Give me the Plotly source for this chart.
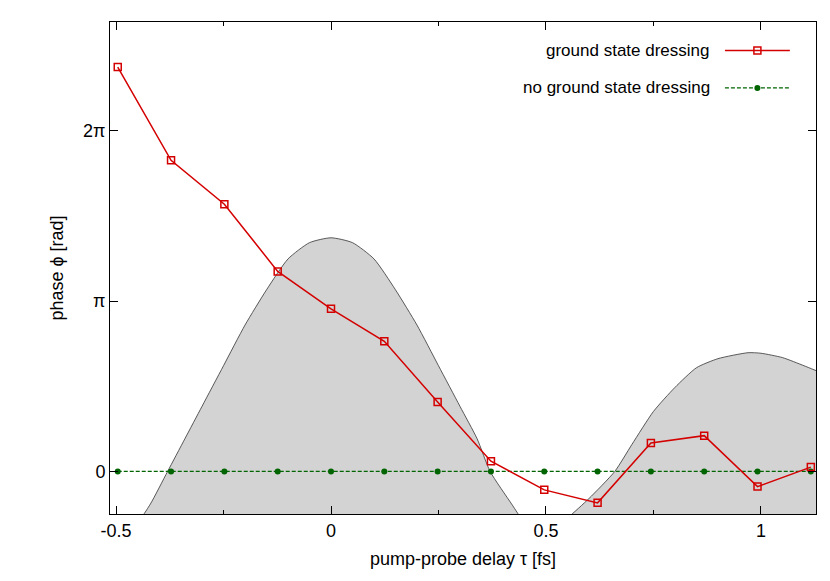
import numpy as np
import plotly.graph_objects as go

PI = np.pi

# delays (fs)
tau = [-0.496, -0.372, -0.248, -0.124, 0.0, 0.124, 0.248, 0.372,
       0.496, 0.620, 0.744, 0.868, 0.992, 1.116]
phase_dressed = [7.46, 5.74, 4.93, 3.69, 3.00, 2.40, 1.28, 0.19,
                 -0.34, -0.58, 0.525, 0.66, -0.28, 0.08]
phase_plain = [0.0] * len(tau)

# background pulse envelope
env_x = [-0.514, -0.49, -0.45, -0.42, -0.38, -0.34, -0.3, -0.25, -0.2, -0.15,
         -0.1, -0.05, 0.0, 0.05, 0.1, 0.15, 0.2, 0.25, 0.3, 0.34, 0.37, 0.42,
         0.45, 0.49, 0.55, 0.6, 0.66, 0.7, 0.75, 0.8, 0.85, 0.9, 0.97, 1.0,
         1.05, 1.1, 1.128]
env_y = [-1.30, -1.24, -0.95, -0.6, 0.0, 0.6, 1.20, 1.95, 2.70, 3.35,
         3.92, 4.22, 4.31, 4.22, 3.92, 3.35, 2.70, 1.95, 1.20, 0.6, 0.0, -0.6,
         -0.95, -1.24, -0.86, -0.5, 0.0, 0.5, 1.107, 1.55, 1.913, 2.08, 2.19, 2.18,
         2.10, 1.95, 1.86]

RED = '#d40000'
GREEN = '#006400'
font = dict(family='Liberation Sans, Arial, sans-serif', size=18, color='black')
lfont = dict(family='Liberation Sans, Arial, sans-serif', size=17, color='black')

fig = go.Figure()
fig.add_trace(go.Scatter(x=env_x, y=[-3] * len(env_x), mode='lines',
                         line=dict(width=0), showlegend=False, hoverinfo='skip'))
fig.add_trace(go.Scatter(x=env_x, y=env_y, mode='lines', line_shape='spline',
                         fill='tonexty', fillcolor='#d3d3d3',
                         line=dict(color='#333333', width=0.8, smoothing=0.6),
                         showlegend=False))
fig.add_trace(go.Scatter(x=tau, y=phase_plain, mode='lines+markers',
                         line=dict(color=GREEN, width=1.3, dash='4px,2px'),
                         marker=dict(color=GREEN, size=6), showlegend=False))
fig.add_trace(go.Scatter(x=tau, y=phase_dressed, mode='lines+markers',
                         line=dict(color=RED, width=1.5),
                         marker=dict(symbol='square-open', color=RED, size=7,
                                     line=dict(width=1.5)), showlegend=False))

# legend samples (gnuplot style, sample to the right of the text)
fig.add_trace(go.Scatter(x=[0.871, 0.963], y=[0.942, 0.942], xaxis='x2', yaxis='y2',
                         mode='lines', line=dict(color=RED, width=1.5), showlegend=False))
fig.add_trace(go.Scatter(x=[0.917], y=[0.942], xaxis='x2', yaxis='y2', mode='markers',
                         marker=dict(symbol='square-open', color=RED, size=7,
                                     line=dict(width=1.5)), showlegend=False))
fig.add_trace(go.Scatter(x=[0.871, 0.963], y=[0.866, 0.866], xaxis='x2', yaxis='y2',
                         mode='lines', line=dict(color=GREEN, width=1.3, dash='4px,2px'),
                         showlegend=False))
fig.add_trace(go.Scatter(x=[0.917], y=[0.866], xaxis='x2', yaxis='y2', mode='markers',
                         marker=dict(color=GREEN, size=6), showlegend=False))

for txt, yy in [('ground state dressing', 0.942), ('no ground state dressing', 0.866)]:
    fig.add_annotation(x=0.853, y=yy, xref='paper', yref='paper', text=txt,
                       showarrow=False, xanchor='right', yanchor='middle', font=lfont)

axis_common = dict(showline=True, linecolor='black', linewidth=1, mirror='ticks',
                   ticks='inside', ticklen=8, tickcolor='black', showgrid=False,
                   zeroline=False, tickfont=font)
fig.update_layout(
    width=822, height=573,
    margin=dict(l=102, r=14, t=14, b=67, autoexpand=False),
    plot_bgcolor='white', paper_bgcolor='white',
    font=font,
    xaxis=dict(range=[-0.514, 1.128], tickvals=[-0.5, 0, 0.5, 1],
               ticktext=['-0.5', '0', '0.5', '1'],
               minor=dict(tickvals=[-0.25, 0.25, 0.75, 1.0], ticks='inside', ticklen=4),
               title=dict(text='pump-probe delay τ [fs]', font=font, standoff=12),
               **axis_common),
    yaxis=dict(range=[-0.25 * PI, 2.639 * PI], tickvals=[0, PI, 2 * PI],
               ticktext=['0', 'π', '2π'],
               title=dict(text='phase ϕ [rad]', font=font, standoff=14),
               **axis_common),
    xaxis2=dict(range=[0, 1], overlaying='x', visible=False),
    yaxis2=dict(range=[0, 1], overlaying='y', visible=False),
)
fig.write_html('out.html')
